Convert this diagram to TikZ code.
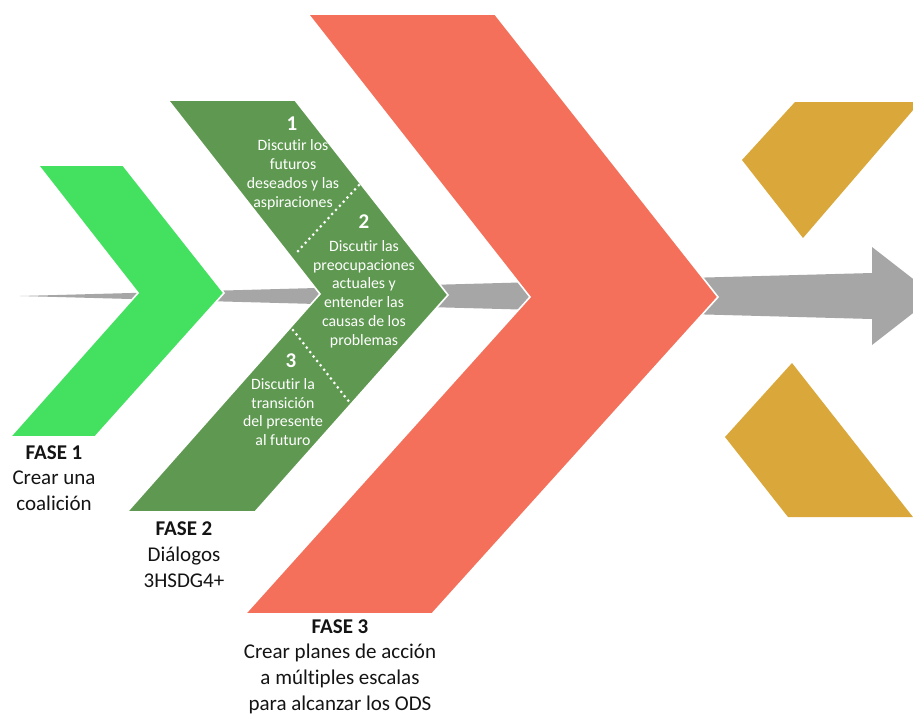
\documentclass[tikz,border=0pt]{standalone}
\usepackage{fontspec}
\setmainfont{Carlito}[Ligatures=NoCommon]
\definecolor{lgreen}{RGB}{68,225,96}
\definecolor{dgreen}{RGB}{95,153,81}
\definecolor{coral}{RGB}{244,112,90}
\definecolor{gold}{RGB}{218,167,58}
\definecolor{arrowgray}{RGB}{166,166,166}
\definecolor{labeltext}{RGB}{20,20,20}
\begin{document}
\begin{tikzpicture}[x=1pt,y=-1pt,
  chev/.style={draw=white,line width=1.6pt,line join=miter},
  dots/.style={draw=white,line width=3pt,line cap=round,dash pattern=on 0pt off 5.6pt},
  innertxt/.style={text=white,font=\fontsize{15.8}{18.7}\selectfont,align=center,inner sep=0pt,anchor=base},
  numtxt/.style={text=white,font=\fontsize{21}{25}\selectfont\bfseries,inner sep=0pt,anchor=base},
  phasetxt/.style={text=labeltext,font=\fontsize{21}{25.6}\selectfont,align=center,inner sep=0pt,anchor=base}]
\useasboundingbox (0,0) rectangle (913,713);
\clip (0,0) rectangle (913,713);
\fill[white] (0,0) rectangle (913,713);
% gray arrow
\fill[arrowgray] (20,296) -- (872,273) -- (872,247) -- (935,296) -- (872,345) -- (872,319) -- cycle;
% chevrons
\path[chev,fill=lgreen] (38,165) -- (123,165) -- (224,293) -- (95,437) -- (10,437) -- (138,293) -- cycle;
\path[chev,fill=dgreen] (168,100) -- (295,100) -- (448,295) -- (255,512) -- (127,512) -- (320,294) -- cycle;
\path[chev,fill=coral] (308,14) -- (495,14) -- (718,297) -- (432,614) -- (245,614) -- (530,297) -- cycle;
% gold pieces
\fill[gold] (795,102) -- (920,102) -- (803,238) -- (742,160) -- cycle;
\fill[gold] (792,363) -- (920,526) -- (920,517) -- (788,517) -- (725,437) -- cycle;
% dotted separators
\coordinate (d1a) at (298,251);
\coordinate (d1b) at (359,185);
\coordinate (d2a) at (293,330);
\coordinate (d2b) at (350,403);
\draw[dots] (d1a) -- (d1b);
\draw[dots] (d2a) -- (d2b);
% inner texts (base anchor = baseline of last line)
\node[numtxt] (n1) at (292,130) {1};
\node[innertxt] (t1) at (293,207) {Discutir los\\futuros\\deseados y las\\aspiraciones};
\node[numtxt] (n2) at (364,228) {2};
\node[innertxt] (t2) at (364,345) {Discutir las\\preocupaciones\\actuales y\\entender las\\causas de los\\problemas};
\node[numtxt] (n3) at (291,367) {3};
\node[innertxt] (t3) at (283,445.5) {Discutir la\\transición\\del presente\\al futuro};
% phase labels
\node[phasetxt] (f1) at (54,510.5) {\textbf{FASE 1}\\Crear una\\coalición};
\node[phasetxt] (f2) at (184,587) {\textbf{FASE 2}\\Diálogos\\3HSDG4+};
\node[phasetxt] (f3) at (340,710) {\textbf{FASE 3}\\Crear planes de acción\\a múltiples escalas\\para alcanzar los ODS};
\end{tikzpicture}
\end{document}
